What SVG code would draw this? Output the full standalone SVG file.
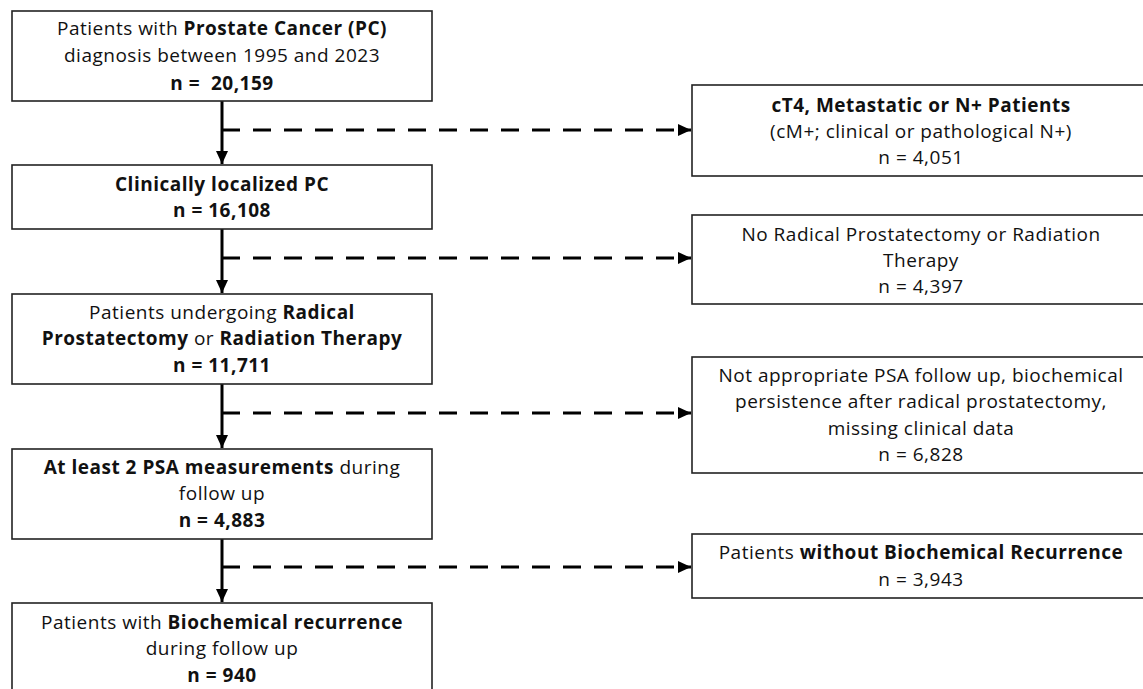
<svg xmlns="http://www.w3.org/2000/svg" width="1143" height="689" viewBox="0 0 1143 689">
<style>
.box{fill:#fff;stroke:#222;stroke-width:1.6}
text{font-family:"Open Sans","Liberation Sans",Arial,sans-serif;font-size:19px;letter-spacing:0.5px;fill:#111;text-anchor:middle}
.b{font-weight:bold}
.solid{stroke:#000;stroke-width:3;fill:none}
.dash{stroke:#000;stroke-width:3;fill:none;stroke-dasharray:18 13}
</style>
<defs>
<marker id="ah" markerUnits="userSpaceOnUse" markerWidth="14" markerHeight="14" viewBox="0 0 14 14" refX="13" refY="7" orient="auto">
<path d="M0,1 L13,7 L0,13 Z" fill="#000"/>
</marker>
</defs>
<g id="connectors">
<line class="solid" x1="222" y1="101" x2="222" y2="164" marker-end="url(#ah)"/>
<line class="solid" x1="222" y1="229" x2="222" y2="293" marker-end="url(#ah)"/>
<line class="solid" x1="222" y1="384" x2="222" y2="448" marker-end="url(#ah)"/>
<line class="solid" x1="222" y1="539" x2="222" y2="602" marker-end="url(#ah)"/>
<line class="dash" x1="222" y1="130" x2="691" y2="130" marker-end="url(#ah)"/>
<line class="dash" x1="222" y1="258" x2="691" y2="258" marker-end="url(#ah)"/>
<line class="dash" x1="222" y1="413" x2="691" y2="413" marker-end="url(#ah)"/>
<line class="dash" x1="222" y1="567" x2="691" y2="567" marker-end="url(#ah)"/>
</g>
<g id="n1">
<rect class="box" x="12" y="11" width="420" height="90"/>
<text x="222" y="35">Patients with <tspan class="b">Prostate Cancer (PC)</tspan></text>
<text x="222" y="62">diagnosis between 1995 and 2023</text>
<text x="222" y="90" class="b">n =&#160; 20,159</text>
</g>
<g id="n2">
<rect class="box" x="12" y="165" width="420" height="64"/>
<text x="222" y="191" class="b">Clinically localized PC</text>
<text x="222" y="217" class="b">n = 16,108</text>
</g>
<g id="n3">
<rect class="box" x="12" y="294" width="420" height="90"/>
<text x="222" y="319">Patients undergoing <tspan class="b">Radical</tspan></text>
<text x="222" y="345"><tspan class="b">Prostatectomy</tspan> or <tspan class="b">Radiation Therapy</tspan></text>
<text x="222" y="372" class="b">n = 11,711</text>
</g>
<g id="n4">
<rect class="box" x="12" y="449" width="420" height="90"/>
<text x="222" y="474"><tspan class="b">At least 2 PSA measurements</tspan> during</text>
<text x="222" y="500">follow up</text>
<text x="222" y="527" class="b">n = 4,883</text>
</g>
<g id="n5">
<rect class="box" x="12" y="603" width="420" height="100"/>
<text x="222" y="629">Patients with <tspan class="b">Biochemical recurrence</tspan></text>
<text x="222" y="655">during follow up</text>
<text x="222" y="682" class="b">n = 940</text>
</g>
<g id="r1">
<rect class="box" x="692" y="85" width="460" height="91"/>
<text x="921" y="112" class="b">cT4, Metastatic or N+ Patients</text>
<text x="921" y="138">(cM+; clinical or pathological N+)</text>
<text x="921" y="164">n = 4,051</text>
</g>
<g id="r2">
<rect class="box" x="692" y="215" width="460" height="89"/>
<text x="921" y="241">No Radical Prostatectomy or Radiation</text>
<text x="921" y="267">Therapy</text>
<text x="921" y="293">n = 4,397</text>
</g>
<g id="r3">
<rect class="box" x="692" y="357" width="460" height="116"/>
<text x="921" y="382">Not appropriate PSA follow up, biochemical</text>
<text x="921" y="408">persistence after radical prostatectomy,</text>
<text x="921" y="435">missing clinical data</text>
<text x="921" y="461">n = 6,828</text>
</g>
<g id="r4">
<rect class="box" x="692" y="534" width="460" height="64"/>
<text x="921" y="559">Patients <tspan class="b">without Biochemical Recurrence</tspan></text>
<text x="921" y="586">n = 3,943</text>
</g>
</svg>
